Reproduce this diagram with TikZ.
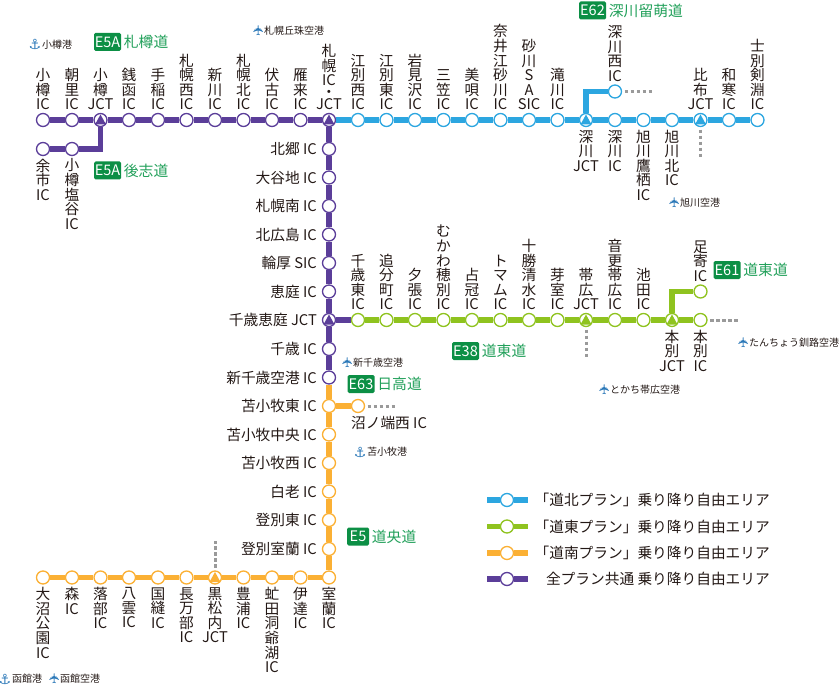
\documentclass[tikz,border=0pt]{standalone}
\usepackage{fontspec}
\usepackage{graphicx}
\setmainfont{Noto Sans CJK JP}
\newfontfamily\symfont{DejaVu Sans}
\usetikzlibrary{calc,positioning}
\definecolor{northblue}{HTML}{2CA6E0}
\definecolor{eastgreen}{HTML}{8FC31F}
\definecolor{southorange}{HTML}{FBB034}
\definecolor{allpurple}{HTML}{5B3E99}
\definecolor{roadgreen}{HTML}{22A05A}
\definecolor{badgegreen}{HTML}{0C8F45}
\definecolor{poiblue}{HTML}{2B78B8}
\definecolor{labelblack}{HTML}{231815}
\definecolor{stubgray}{HTML}{9A9A9A}
\def\lblfont{\fontsize{14.7}{14.6}\selectfont\lineskiplimit=-10pt }
\tikzset{
	stn/.style={circle,draw=#1,fill=white,line width=1.3pt,minimum size=13pt,inner sep=0pt},
	jct/.style={stn=#1,path picture={\fill[#1,shift={(path picture bounding box.center)}] (-5.5,4.5) -- (5.5,4.5) -- (0,-5.5) -- cycle;}},
	rail/.style={draw=#1,line width=5.5pt},
	stub/.style={draw=stubgray,line width=3pt,dash pattern=on 3.6pt off 2.4pt,shorten <=2.5pt},
	lbl/.style={font=\lblfont,text=labelblack,align=center,inner sep=0pt},
	badge/.style={fill=badgegreen,text=white,rounded corners=1.5pt,font=\fontsize{14.5}{15}\selectfont,minimum height=18pt,inner sep=0pt,minimum width=#1},
	roadname/.style={text=roadgreen,font=\fontsize{14.8}{15}\selectfont,inner sep=0pt},
	poitext/.style={text=labelblack,font=\fontsize{10}{11}\selectfont,inner sep=0pt},
	poiicon/.style={text=poiblue,font=\symfont\fontsize{14}{14}\selectfont,inner sep=0pt},
}
\def\stnup[#1](#2)(#3)#4{\node[#1] (#2) at (#3) {}; \node[lbl,above=2.5pt of #2] (#2l) {#4};}
\def\stndn[#1](#2)(#3)#4{\node[#1] (#2) at (#3) {}; \node[lbl,below=2.5pt of #2] (#2l) {#4};}
\def\stnlf[#1](#2)(#3)#4{\node[#1] (#2) at (#3) {}; \node[lbl,anchor=east] (#2l) at ($(#3)+(-12,0)$) {#4};}
\def\airport(#1)(#2)#3{\node[poitext,anchor=west] (#1) at (#2) {#3}; \node[poiicon,left=0.5pt of #1] (#1i) {\rotatebox{90}{\char"2708}};}
\def\seaport(#1)(#2)#3{\node[poitext,anchor=west] (#1) at (#2) {#3}; \node[poiicon,left=0.5pt of #1] (#1i) {\char"2693};}
\def\road(#1)(#2)#3#4#5{\node[badge=#3] (#1) at (#2) {#4}; \node[roadname,right=2.5pt of #1] (#1n) {#5};}

\begin{document}
\begin{tikzpicture}[x=1pt,y=-1pt]
	\useasboundingbox (0,0) rectangle (840,687);

	\stnup[stn=allpurple](otaru)(43,120){小\\樽\\IC}
	\stnup[stn=allpurple](asari)(72,120){朝\\里\\IC}
	\stnup[jct=allpurple](otarujct)(100.5,120){小\\樽\\JCT}
	\stnup[stn=allpurple](zenibako)(129,120){銭\\函\\IC}
	\stnup[stn=allpurple](teine)(158,120){手\\稲\\IC}
	\stnup[stn=allpurple](sapporonishi)(186.5,120){札\\幌\\西\\IC}
	\stnup[stn=allpurple](shinkawa)(215,120){新\\川\\IC}
	\stnup[stn=allpurple](sapporokita)(243.5,120){札\\幌\\北\\IC}
	\stnup[stn=allpurple](fushiko)(272,120){伏\\古\\IC}
	\stnup[stn=allpurple](karikita)(300.5,120){雁\\来\\IC}
	\stnup[jct=allpurple](sapporo)(329,120){札\\幌\\IC\\[-2.5pt]・\\[-2.5pt]JCT}
	\stndn[stn=allpurple](yoichi)(43,149){余\\市\\IC}
	\stndn[stn=allpurple](shioya)(72,149){小\\樽\\塩\\谷\\IC}

	\stnup[stn=northblue](ebetsunishi)(358,120){江\\別\\西\\IC}
	\stnup[stn=northblue](ebetsuhigashi)(386.5,120){江\\別\\東\\IC}
	\stnup[stn=northblue](iwamizawa)(415,120){岩\\見\\沢\\IC}
	\stnup[stn=northblue](mikasa)(443.5,120){三\\笠\\IC}
	\stnup[stn=northblue](bibai)(472,120){美\\唄\\IC}
	\stnup[stn=northblue](naie)(500.5,120){奈\\井\\江\\砂\\川\\IC}
	\stnup[stn=northblue](sunagawa)(529,120){砂\\川\\S\\A\\SIC}
	\stnup[stn=northblue](takikawa)(557.5,120){滝\\川\\IC}
	\stndn[jct=northblue](fukagawajct)(586,120){深\\川\\JCT}
	\stndn[stn=northblue](fukagawa)(615,120){深\\川\\IC}
	\stnup[stn=northblue](fukagawanishi)(615,91.5){深\\川\\西\\IC}
	\stndn[stn=northblue](takasu)(643.5,120){旭\\川\\鷹\\栖\\IC}
	\stndn[stn=northblue](asahikawakita)(672,120){旭\\川\\北\\IC}
	\stnup[jct=northblue](pippujct)(700.5,120){比\\布\\JCT}
	\stnup[stn=northblue](wassamu)(729,120){和\\寒\\IC}
	\stnup[stn=northblue](kembuchi)(757.5,120){士\\別\\剣\\淵\\IC}

	\stnlf[stn=allpurple](kitago)(329,149){北郷 IC}
	\stnlf[stn=allpurple](oyachi)(329,177.5){大谷地 IC}
	\stnlf[stn=allpurple](sapporominami)(329,206){札幌南 IC}
	\stnlf[stn=allpurple](kitahiroshima)(329,234.5){北広島 IC}
	\stnlf[stn=allpurple](wattsu)(329,263){輪厚 SIC}
	\stnlf[stn=allpurple](eniwa)(329,291.5){恵庭 IC}
	\stnlf[jct=allpurple](chitoseeniwa)(329,320){千歳恵庭 JCT}
	\stnlf[stn=allpurple](chitose)(329,349){千歳 IC}
	\stnlf[stn=allpurple](shinchitose)(329,377.5){新千歳空港 IC}
	\stnlf[stn=southorange](tomakomaihigashi)(329,406){苫小牧東 IC}
	\stnlf[stn=southorange](tomakomaichuo)(329,434.5){苫小牧中央 IC}
	\stnlf[stn=southorange](tomakomainishi)(329,463){苫小牧西 IC}
	\stnlf[stn=southorange](shiraoi)(329,491.5){白老 IC}
	\stnlf[stn=southorange](noboribetsuhigashi)(329,520){登別東 IC}
	\stnlf[stn=southorange](noboribetsumuroran)(329,549){登別室蘭 IC}
	\node[stn=southorange] (numanohata) at (358,406) {};
	\node[lbl] (numanohatal) at (389,423) {沼ノ端西 IC};

	\stnup[stn=eastgreen](chitosehigashi)(358,320){千\\歳\\東\\IC}
	\stnup[stn=eastgreen](oiwakecho)(386.5,320){追\\分\\町\\IC}
	\stnup[stn=eastgreen](yubari)(415,320){夕\\張\\IC}
	\stnup[stn=eastgreen](hobetsu)(443.5,320){む\\か\\わ\\穂\\別\\IC}
	\stnup[stn=eastgreen](shimukappu)(472,320){占\\冠\\IC}
	\stnup[stn=eastgreen](tomamu)(500.5,320){ト\\マ\\ム\\IC}
	\stnup[stn=eastgreen](tokachishimizu)(529,320){十\\勝\\清\\水\\IC}
	\stnup[stn=eastgreen](memuro)(557.5,320){芽\\室\\IC}
	\stnup[jct=eastgreen](obihirojct)(586,320){帯\\広\\JCT}
	\stnup[stn=eastgreen](otofuke)(615,320){音\\更\\帯\\広\\IC}
	\stnup[stn=eastgreen](ikeda)(643.5,320){池\\田\\IC}
	\stndn[jct=eastgreen](honbetsujct)(672,320){本\\別\\JCT}
	\stndn[stn=eastgreen](honbetsu)(700.5,320){本\\別\\IC}
	\stnup[stn=eastgreen](ashoro)(700.5,291.5){足\\寄\\IC}

	\stndn[stn=southorange](muroran)(329,577.5){室\\蘭\\IC}
	\stndn[stn=southorange](date)(300.5,577.5){伊\\達\\IC}
	\stndn[stn=southorange](toyako)(272,577.5){虻\\田\\洞\\爺\\湖\\IC}
	\stndn[stn=southorange](toyoura)(243.5,577.5){豊\\浦\\IC}
	\stndn[jct=southorange](kuromatsunai)(215,577.5){黒\\松\\内\\JCT}
	\stndn[stn=southorange](oshamambe)(186.5,577.5){長\\万\\部\\IC}
	\stndn[stn=southorange](kunnui)(158,577.5){国\\縫\\IC}
	\stndn[stn=southorange](yakumo)(129,577.5){八\\雲\\IC}
	\stndn[stn=southorange](otoshibe)(100.5,577.5){落\\部\\IC}
	\stndn[stn=southorange](mori)(72,577.5){森\\IC}
	\stndn[stn=southorange](onuma)(43,577.5){大\\沼\\公\\園\\IC}

	\draw[rail=allpurple] (otaru) -- (asari) -- (otarujct) -- (zenibako) -- (teine) -- (sapporonishi) -- (shinkawa) -- (sapporokita) -- (fushiko) -- (karikita) -- (sapporo);
	\draw[rail=allpurple] (yoichi) -- (shioya) -| (otarujct);
	\draw[rail=allpurple] (sapporo) -- (kitago) -- (oyachi) -- (sapporominami) -- (kitahiroshima) -- (wattsu) -- (eniwa) -- (chitoseeniwa) -- (chitose) -- (shinchitose);
	\draw[rail=allpurple] (chitoseeniwa) -- (chitosehigashi);
	\draw[rail=northblue] (sapporo) -- (ebetsunishi) -- (ebetsuhigashi) -- (iwamizawa) -- (mikasa) -- (bibai) -- (naie) -- (sunagawa) -- (takikawa) -- (fukagawajct) -- (fukagawa) -- (takasu) -- (asahikawakita) -- (pippujct) -- (wassamu) -- (kembuchi);
	\draw[rail=northblue] (fukagawajct) |- (fukagawanishi);
	\draw[rail=eastgreen] (chitosehigashi) -- (oiwakecho) -- (yubari) -- (hobetsu) -- (shimukappu) -- (tomamu) -- (tokachishimizu) -- (memuro) -- (obihirojct) -- (otofuke) -- (ikeda) -- (honbetsujct) -- (honbetsu);
	\draw[rail=eastgreen] (honbetsujct) |- (ashoro);
	\draw[rail=southorange] (shinchitose) -- (tomakomaihigashi) -- (tomakomaichuo) -- (tomakomainishi) -- (shiraoi) -- (noboribetsuhigashi) -- (noboribetsumuroran) -- (muroran) -- (date) -- (toyako) -- (toyoura) -- (kuromatsunai) -- (oshamambe) -- (kunnui) -- (yakumo) -- (otoshibe) -- (mori) -- (onuma);
	\draw[rail=southorange] (tomakomaihigashi) -- (numanohata);

	\coordinate (stubnishi) at (653,91.5);
	\coordinate (stubpippu) at (700.5,157);
	\coordinate (stubobihiro) at (586,358);
	\coordinate (stubhonbetsu) at (738,320);
	\coordinate (stubnuma) at (396,406);
	\coordinate (stubkuro) at (215,541);
	\draw[stub] (fukagawanishi) -- (stubnishi);
	\draw[stub] (pippujct) -- (stubpippu);
	\draw[stub] (obihirojct) -- (stubobihiro);
	\draw[stub] (honbetsu) -- (stubhonbetsu);
	\draw[stub] (numanohata) -- (stubnuma);
	\draw[stub] (kuromatsunai) -- (stubkuro);

	\road(rsassontarumi)(107.5,42){27pt}{E5A}{札樽道}
	\road(rshiribeshi)(107.5,170.5){27pt}{E5A}{後志道}
	\road(rrumoi)(592.5,10.5){27pt}{E62}{深川留萌道}
	\road(rdotoa)(727,270){27pt}{E61}{道東道}
	\road(rdotob)(465.5,351){27pt}{E38}{道東道}
	\road(rhidaka)(361,384){27pt}{E63}{日高道}
	\road(rdoo)(358,536.5){22pt}{E5}{道央道}

	\seaport(potaru)(42,44.5){小樽港}
	\airport(poka)(264,31){札幌丘珠空港}
	\airport(pasahi)(680,203){旭川空港}
	\airport(pkushiro)(749,343){たんちょう釧路空港}
	\airport(pobihiro)(610,389.5){とかち帯広空港}
	\airport(pchitose)(353,363){新千歳空港}
	\seaport(ptoma)(367,452){苫小牧港}
	\seaport(phakop)(12,679){函館港}
	\airport(phakoa)(60,679){函館空港}

	\node[stn=northblue] (lgblue) at (507,500) {};
	\node[stn=eastgreen] (lggreen) at (507,526.5) {};
	\node[stn=southorange] (lgorange) at (507,553) {};
	\node[stn=allpurple] (lgpurple) at (507,579) {};
	\coordinate (lgbluea) at (487,500);
	\coordinate (lgblueb) at (527.5,500);
	\coordinate (lggreena) at (487,526.5);
	\coordinate (lggreenb) at (527.5,526.5);
	\coordinate (lgorangea) at (487,553);
	\coordinate (lgorangeb) at (527.5,553);
	\coordinate (lgpurplea) at (487,579);
	\coordinate (lgpurpleb) at (527.5,579);
	\draw[rail=northblue] (lgbluea) -- (lgblue) -- (lgblueb);
	\draw[rail=eastgreen] (lggreena) -- (lggreen) -- (lggreenb);
	\draw[rail=southorange] (lgorangea) -- (lgorange) -- (lgorangeb);
	\draw[rail=allpurple] (lgpurplea) -- (lgpurple) -- (lgpurpleb);
	\node[lbl,anchor=east] (lgbluet) at (770,500) {「道北プラン」乗り降り自由エリア};
	\node[lbl,anchor=east] (lggreent) at (770,526.5) {「道東プラン」乗り降り自由エリア};
	\node[lbl,anchor=east] (lgoranget) at (770,553) {「道南プラン」乗り降り自由エリア};
	\node[lbl,anchor=east] (lgpurplet) at (770,579) {全プラン共通 乗り降り自由エリア};
\end{tikzpicture}
\end{document}
